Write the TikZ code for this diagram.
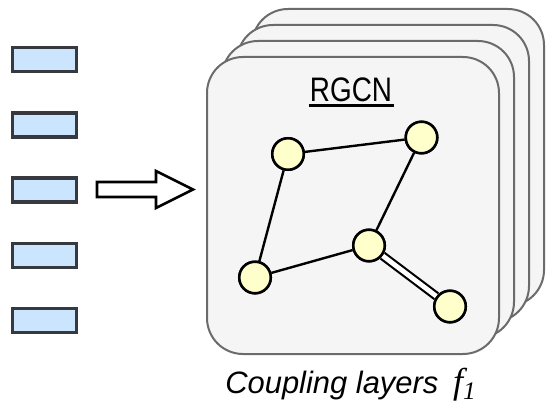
\documentclass[tikz,border=0pt]{standalone}
\usepackage{fontspec}
\setmainfont{Liberation Sans}
\newfontfamily\narrowsans[FakeStretch=0.82]{Liberation Sans}
\newfontfamily\serifmath{Liberation Serif}
\definecolor{cardfill}{HTML}{F5F5F5}
\definecolor{cardline}{HTML}{6B6B6B}
\definecolor{vecfill}{HTML}{CCE5FF}
\definecolor{vecline}{HTML}{36393D}
\definecolor{nodefill}{HTML}{FFFFCC}
\begin{document}
\begin{tikzpicture}[x=0.75pt,y=-0.75pt,
  card/.style={draw=cardline, fill=cardfill, line width=1.5pt, rounded corners=27pt,
    minimum width=292*0.75pt, minimum height=297*0.75pt, inner sep=0pt},
  vec/.style={draw=vecline, fill=vecfill, line width=2.3pt,
    minimum width=64*0.75pt, minimum height=24*0.75pt, inner sep=0pt},
  gnode/.style={circle, draw=black, fill=nodefill, line width=1.9pt,
    minimum size=31.5*0.75pt, inner sep=0pt},
  gedge/.style={draw=black, line width=1.8pt},
  dedge/.style={draw=black, line width=1.6pt, double=white, double distance=3.6pt},
  bigarrow/.style={draw=black, fill=white, line width=1.9pt, line join=miter}
]
\useasboundingbox (0,0) rectangle (546,410);

% input vectors
\node[vec] (v1) at (44.5,59.5) {};
\node[vec] (v2) at (44.5,125) {};
\node[vec] (v3) at (44.5,190) {};
\node[vec] (v4) at (44.5,255.5) {};
\node[vec] (v5) at (44.5,320.5) {};

% block arrow
\draw[bigarrow] (97,182) -- (156,182) -- (156,171) -- (193,189.5) -- (156,208)
  -- (156,197) -- (97,197) -- cycle;

% stacked cards
\node[card] (c4) at (398,157.5) {};
\node[card] (c3) at (383,173.5) {};
\node[card] (c2) at (368,189.5) {};
\node[card] (c1) at (353,205.5) {};

% title
\node[anchor=base, inner sep=0pt] (title) at (351,102)
  {\fontsize{25.5}{30}\narrowsans RGCN};
\draw[line width=2.4pt] (308.5,105.5) -- (393.5,105.5);

% graph
\node[gnode] (a) at (288,154) {};
\node[gnode] (b) at (421.5,137.5) {};
\node[gnode] (c) at (369,245.5) {};
\node[gnode] (d) at (255,277.5) {};
\node[gnode] (e) at (450,306.5) {};
\path[gedge] (a) -- (b);
\path[gedge] (a) -- (d);
\path[gedge] (b) -- (c);
\path[gedge] (c) -- (d);
\path[dedge] (c) -- (e);
% redraw nodes on top
\node[gnode] at (a) {};
\node[gnode] at (b) {};
\node[gnode] at (c) {};
\node[gnode] at (d) {};
\node[gnode] at (e) {};

% caption
\node[anchor=base west, inner sep=0pt] (cap) at (225,393)
  {\fontsize{23.2}{28}\selectfont\itshape Coupling layers\hspace{11pt}{\serifmath\itshape\fontsize{27}{30}\selectfont f}\raisebox{-5pt}{\serifmath\itshape\fontsize{19}{22}\selectfont 1}};
\end{tikzpicture}
\end{document}
